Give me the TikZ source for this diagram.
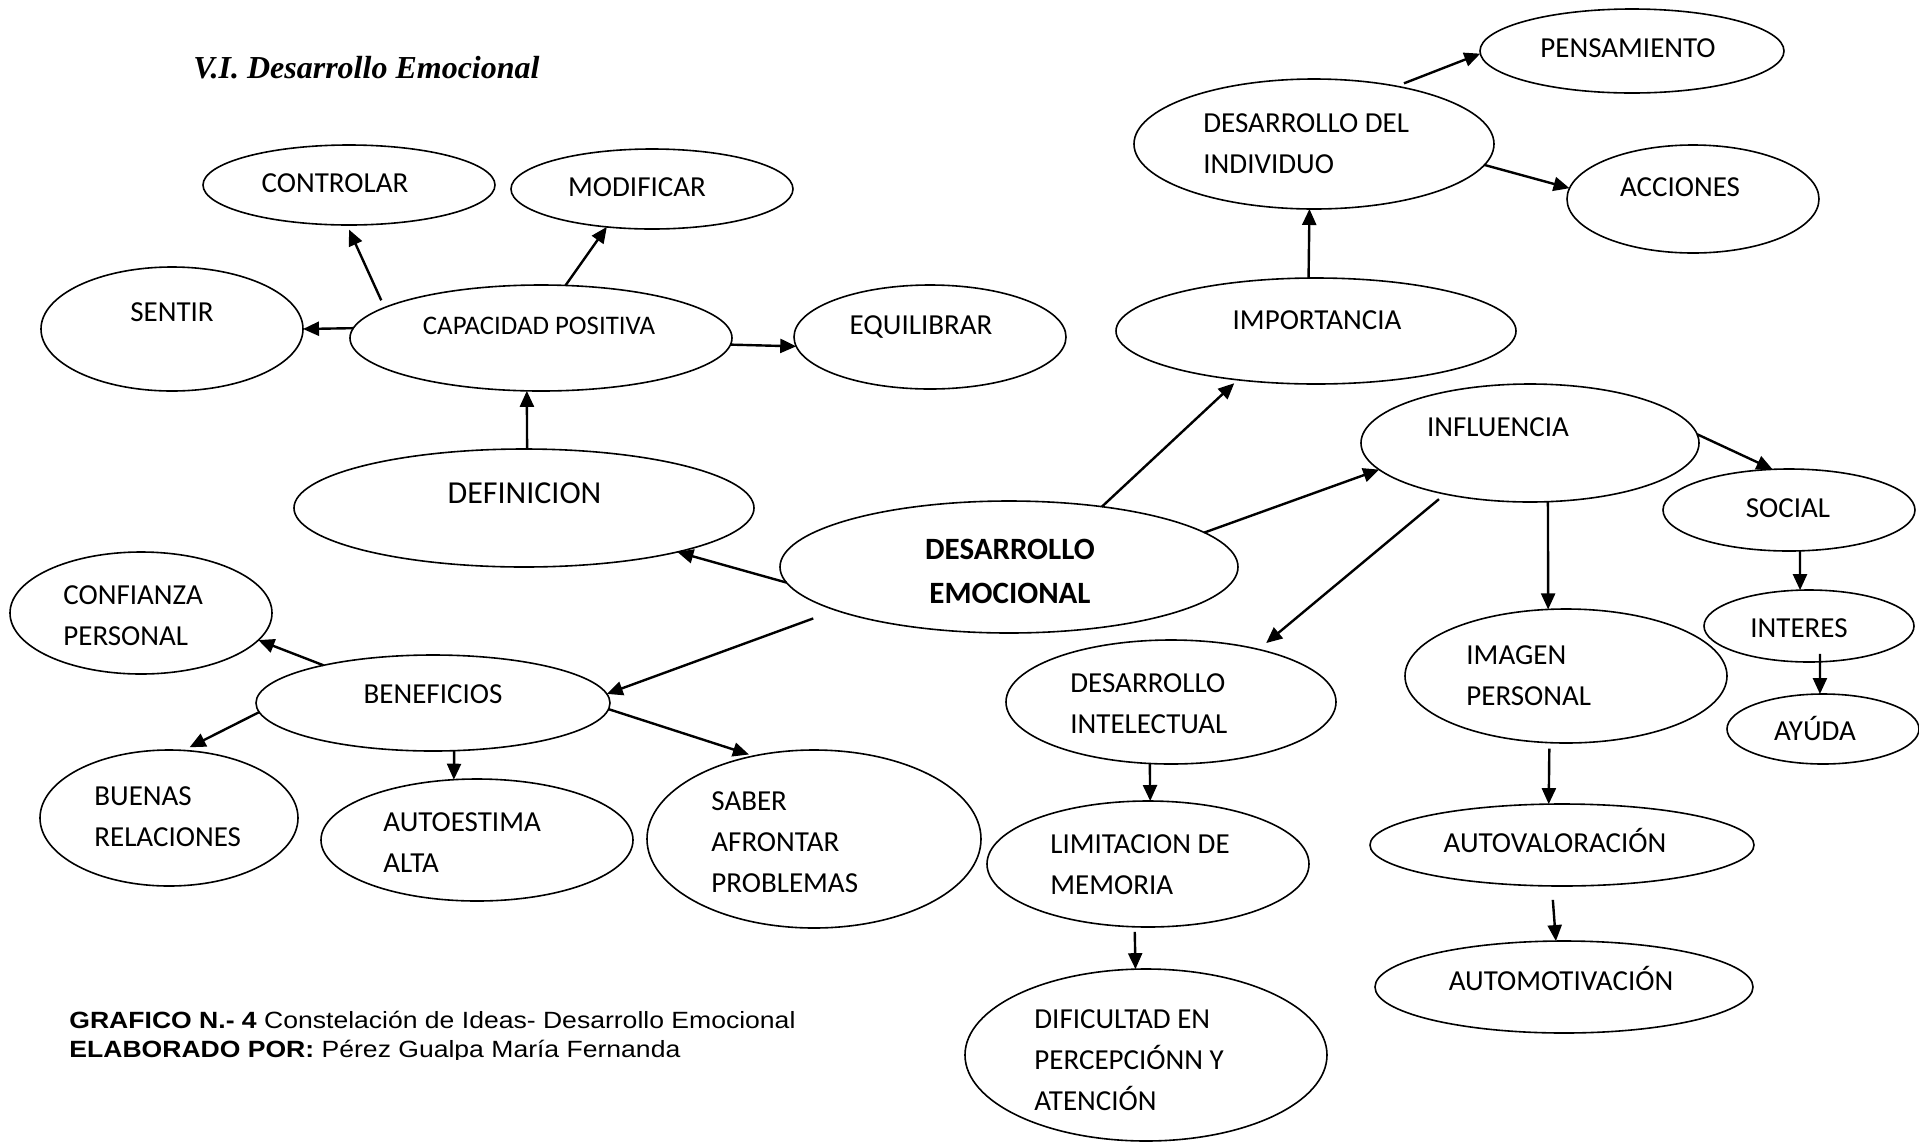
\documentclass[tikz,border=0pt]{standalone}
\usepackage{fontspec}
\setmainfont{Carlito}
\newfontfamily\titlefont{Liberation Serif}
\newfontfamily\capfont[FakeStretch=1.13]{Liberation Sans}
\usetikzlibrary{shapes.geometric,arrows.meta}
\begin{document}
\begin{tikzpicture}[x=0.5pt,y=-0.5pt,
  ell/.style={draw, ellipse, line width=0.8pt, inner sep=0pt, outer sep=0pt},
  lbl/.style={font=\fontsize{14.5}{20.5}\selectfont, inner sep=0pt, align=left},
  lblw/.style={lbl, anchor=west},
  arr/.style={-{Triangle[length=8pt,width=7pt]}, line width=1.2pt},
  captxt/.style={font=\capfont\fontsize{11.75}{14.5}\selectfont, inner sep=0pt, anchor=base west}]
\fill[white] (0,0) rectangle (1919,1142);
\useasboundingbox (0,0) rectangle (1919,1142);

% title
\node[font=\titlefont\bfseries\itshape\fontsize{16}{19}\selectfont, anchor=base west, inner sep=0pt] (title) at (193,78) {V.I. Desarrollo Emocional};

% ellipses
\node[ell, minimum width=146pt, minimum height=40pt] (controlar) at (349,185) {};
\node[ell, minimum width=141pt, minimum height=40pt] (modificar) at (652,189) {};
\node[ell, minimum width=131pt, minimum height=62pt] (sentir) at (172,329) {};
\node[ell, minimum width=191pt, minimum height=53pt] (cap) at (541,338) {};
\node[ell, minimum width=136pt, minimum height=52pt] (equil) at (930,337) {};
\node[ell, minimum width=230pt, minimum height=59pt] (defin) at (524,508) {};
\node[ell, minimum width=229pt, minimum height=66pt] (de) at (1009,567) {};
\node[ell, minimum width=152pt, minimum height=42pt] (pens) at (1632,51) {};
\node[ell, minimum width=180pt, minimum height=65pt] (ddi) at (1314,144) {};
\node[ell, minimum width=126pt, minimum height=54pt] (acc) at (1693,199) {};
\node[ell, minimum width=200pt, minimum height=53pt] (imp) at (1316,331) {};
\node[ell, minimum width=169pt, minimum height=59pt] (infl) at (1530,443) {};
\node[ell, minimum width=126pt, minimum height=41pt] (social) at (1789,510) {};
\node[ell, minimum width=105pt, minimum height=36pt] (interes) at (1809,626) {};
\node[ell, minimum width=96pt, minimum height=35pt] (ayuda) at (1823,729) {};
\node[ell, minimum width=161pt, minimum height=67pt] (imagen) at (1566,676) {};
\node[ell, minimum width=192pt, minimum height=41pt] (autoval) at (1562,845) {};
\node[ell, minimum width=189pt, minimum height=46pt] (automot) at (1564,987) {};
\node[ell, minimum width=165pt, minimum height=62pt] (di) at (1171,702) {};
\node[ell, minimum width=161pt, minimum height=63pt] (lim) at (1148,864) {};
\node[ell, minimum width=181pt, minimum height=86pt] (dif) at (1146,1055) {};
\node[ell, minimum width=131pt, minimum height=61pt] (conf) at (141,613) {};
\node[ell, minimum width=177pt, minimum height=48pt] (ben) at (433,703) {};
\node[ell, minimum width=129pt, minimum height=68pt] (buenas) at (169,818) {};
\node[ell, minimum width=156pt, minimum height=61pt] (auto) at (477,840) {};
\node[ell, minimum width=167pt, minimum height=89pt] (saber) at (814,839) {};

% texts
\node[lbl] (controlar-t) at (335,183) {CONTROLAR};
\node[lbl] (modificar-t) at (637,187) {MODIFICAR};
\node[lbl] (sentir-t) at (172,312) {SENTIR};
\node[lbl, font=\fontsize{13.4}{16}\selectfont] (cap-t) at (539,325.5) {CAPACIDAD POSITIVA};
\node[lbl] (equil-t) at (921,327) {EQUILIBRAR};
\node[lbl, font=\fontsize{16}{19}\selectfont] (defin-t) at (524.5,493) {DEFINICION};
\node[lbl, font=\bfseries\fontsize{15.5}{22}\selectfont, align=center] (de-t) at (1010,571) {DESARROLLO\\EMOCIONAL};
\node[lbl] (pens-t) at (1628,48) {PENSAMIENTO};
\node[lblw] (ddi-t) at (1203,143.5) {DESARROLLO DEL\\INDIVIDUO};
\node[lbl] (acc-t) at (1680,187) {ACCIONES};
\node[lbl] (imp-t) at (1317,320) {IMPORTANCIA};
\node[lbl] (infl-t) at (1498,427) {INFLUENCIA};
\node[lbl] (social-t) at (1788,508) {SOCIAL};
\node[lbl] (interes-t) at (1799,628) {INTERES};
\node[lbl] (ayuda-t) at (1815,728) {AYÚDA};
\node[lblw] (imagen-t) at (1466,676) {IMAGEN\\PERSONAL};
\node[lbl] (autoval-t) at (1555,840.5) {AUTOVALORACIÓN};
\node[lbl] (automot-t) at (1561,978.5) {AUTOMOTIVACIÓN};
\node[lblw] (di-t) at (1070,704) {DESARROLLO\\INTELECTUAL};
\node[lblw] (lim-t) at (1050,865) {LIMITACION DE\\MEMORIA};
\node[lblw] (dif-t) at (1034,1060) {DIFICULTAD EN\\PERCEPCIÓNN Y\\ATENCIÓN};
\node[lblw] (conf-t) at (63,616) {CONFIANZA\\PERSONAL};
\node[lbl] (ben-t) at (433,694) {BENEFICIOS};
\node[lblw] (buenas-t) at (94,817) {BUENAS\\RELACIONES};
\node[lblw] (auto-t) at (383,843) {AUTOESTIMA\\ALTA};
\node[lblw] (saber-t) at (711,842.5) {SABER\\AFRONTAR\\PROBLEMAS};

% connectors
\draw[arr, shorten <=4pt, shorten >=2.5pt] (cap.169) -- (controlar.267);
\draw[arr] (cap.65) -- (modificar.220);
\draw[arr] (cap.177) -- (sentir.0);
\draw[arr] (cap.358) -- (equil.184);
\draw[arr] (defin.87) -- (cap.255);
\draw[arr] (de.184) -- (defin.344);
\draw[arr, shorten >=2.5pt] (de.33) -- (imp.212);
\draw[arr] (de.10) -- (infl.190);
\draw[arr, shorten <=12pt] (de.194) -- (ben.3);
\draw[arr] (ben.161) -- (conf.347);
\draw[arr, shorten >=3.5pt] (ben.183) -- (buenas.78);
\draw[arr] (ben.294) -- (auto.111);
\draw[arr, shorten >=2.5pt] (ben.358) -- (saber.126);
\draw[arr] (imp.98) -- (ddi.266);
\draw[arr, shorten <=4pt] (ddi.35) -- (pens.181);
\draw[arr] (ddi.353) -- (acc.175);
\draw[arr] (infl.3) -- (social.112);
\draw[arr, shorten <=4pt, shorten >=5pt] (infl.211) -- (di.31);
\draw[arr] (infl.287) -- (imagen.105);
\draw[arr] (social.285) -- (interes.104);
\draw[arr, shorten <=-4pt] (interes.287) -- (ayuda.95);
\draw[arr, shorten <=3pt] (imagen.256) -- (autoval.108);
\draw[arr, shorten <=7pt] (autoval.256) -- (automot.100);
\draw[arr] (di.251) -- (lim.88);
\draw[arr, shorten <=2.5pt] (lim.258) -- (dif.97);

% caption
\begin{scope}
\clip (0,0) rectangle (1919,1059.5);
\node[captxt] (cap1) at (69,1028) {\textbf{GRAFICO N.- 4} Constelación de Ideas- Desarrollo Emocional};
\node[captxt] (cap2) at (69,1057) {\textbf{ELABORADO POR:} Pérez Gualpa María Fernanda};
\end{scope}
\end{tikzpicture}
\end{document}
